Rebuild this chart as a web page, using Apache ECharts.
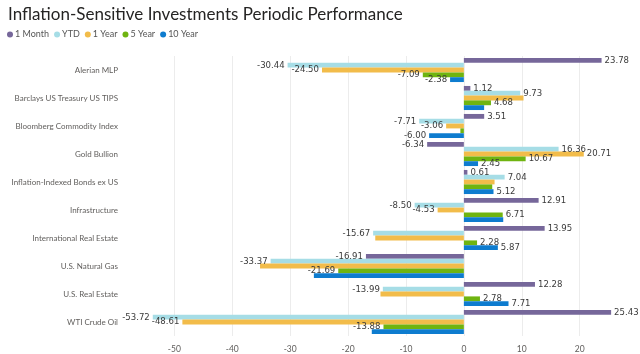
<!DOCTYPE html>
<html>
<head>
<meta charset="utf-8">
<script src="https://cdn.jsdelivr.net/npm/echarts@6/dist/echarts.min.js"></script>
<style>
  html, body { margin: 0; padding: 0; background: #fff; }
  #chart { width: 640px; height: 354px; }
</style>
</head>
<body>
<div id="chart"></div>
<script>
// categories, top to bottom
const categories = ["Alerian MLP", "Barclays US Treasury US TIPS", "Bloomberg Commodity Index",
    "Gold Bullion", "Inflation-Indexed Bonds ex US", "Infrastructure", "International Real Estate",
    "U.S. Natural Gas", "U.S. Real Estate", "WTI Crude Oil"];

const seriesNames = ["1 Month", "YTD", "1 Year", "5 Year", "10 Year"];

const oneMonth = [23.78, 1.12, 3.51, -6.34, 0.61, 12.91, 13.95, -16.91, 12.28, 25.43];
const ytd = [-30.44, 9.73, -7.71, 16.36, 7.04, -8.50, -15.67, -33.37, -13.99, -53.72];
const oneYear = [-24.50, 10.3, -3.06, 20.71, 5.3, -4.53, -15.3, -35.2, -14.4, -48.61];
const fiveYear = [-7.09, 4.68, -0.6, 10.67, 4.9, 6.71, 2.28, -21.69, 2.78, -13.88];
const tenYear = [-2.38, 3.5, -6.00, 2.45, 5.12, 6.8, 5.87, -25.9, 7.71, -15.9];

// value labels that the original leaves out (they collide with a neighbour)
const hiddenLabels = [
    ["Barclays US Treasury US TIPS", "1 Year"], ["Barclays US Treasury US TIPS", "10 Year"],
    ["Bloomberg Commodity Index", "5 Year"],
    ["Inflation-Indexed Bonds ex US", "1 Year"], ["Inflation-Indexed Bonds ex US", "5 Year"],
    ["Infrastructure", "10 Year"],
    ["International Real Estate", "1 Year"],
    ["U.S. Natural Gas", "1 Year"], ["U.S. Natural Gas", "10 Year"],
    ["U.S. Real Estate", "1 Year"],
    ["WTI Crude Oil", "10 Year"]
];

const xTicks = [-50, -40, -30, -20, -10, 0, 10, 20];

const colors = ["#76679a", "#a6dde6", "#f2bc4a", "#6fb410", "#0e7ccf"];
const allValues = [oneMonth, ytd, oneYear, fiveYear, tenYear];

const uiFont = "Lato, 'Open Sans', sans-serif";
const labelFont = "'Liberation Sans Narrow', 'DejaVu Sans Condensed', Roboto, sans-serif";

function isHidden(cat, name) {
    return hiddenLabels.some(function (h) { return h[0] === cat && h[1] === name; });
}

const chart = echarts.init(document.getElementById("chart"));

const series = seriesNames.map(function (name, i) {
    return {
        name: name,
        type: "bar",
        barGap: "0%",
        barCategoryGap: "14%",
        itemStyle: {color: colors[i]},
        data: allValues[i].map(function (v, j) {
            return {
                value: v,
                label: {
                    show: !isHidden(categories[j], name),
                    position: v < 0 ? "left" : "right"
                }
            };
        }),
        label: {
            distance: 3,
            color: "#3a3a3a",
            fontSize: 9.5,
            fontFamily: labelFont,
            formatter: function (p) { return p.value.toFixed(2); }
        }
    };
});

chart.setOption({
    animation: false,
    color: colors,
    title: {
        text: "Inflation-Sensitive Investments Periodic Performance",
        left: 3, top: 1,
        textStyle: {fontFamily: uiFont, fontWeight: "normal", fontSize: 17, color: "#252423"}
    },
    legend: {
        left: 2, top: 25,
        icon: "circle",
        itemWidth: 6, itemHeight: 6, itemGap: 5,
        textStyle: {fontFamily: uiFont, fontSize: 9, color: "#555", padding: [0, 0, 0, -3]}
    },
    grid: {left: 128, right: 14, top: 56, bottom: 18, containLabel: false},
    xAxis: {
        type: "value",
        min: -58, max: 28,
        axisLine: {show: false},
        axisTick: {show: false, customValues: xTicks},
        axisLabel: {customValues: xTicks, fontSize: 8.5, color: "#605e5c", fontFamily: uiFont, margin: 9},
        splitLine: {show: true, lineStyle: {color: "#ececec"}}
    },
    yAxis: {
        type: "category",
        data: categories,
        inverse: true,
        axisLine: {show: false},
        axisTick: {show: false},
        axisLabel: {fontSize: 8, color: "#605e5c", fontFamily: uiFont, margin: 10}
    },
    series: series
});
</script>
</body>
</html>
